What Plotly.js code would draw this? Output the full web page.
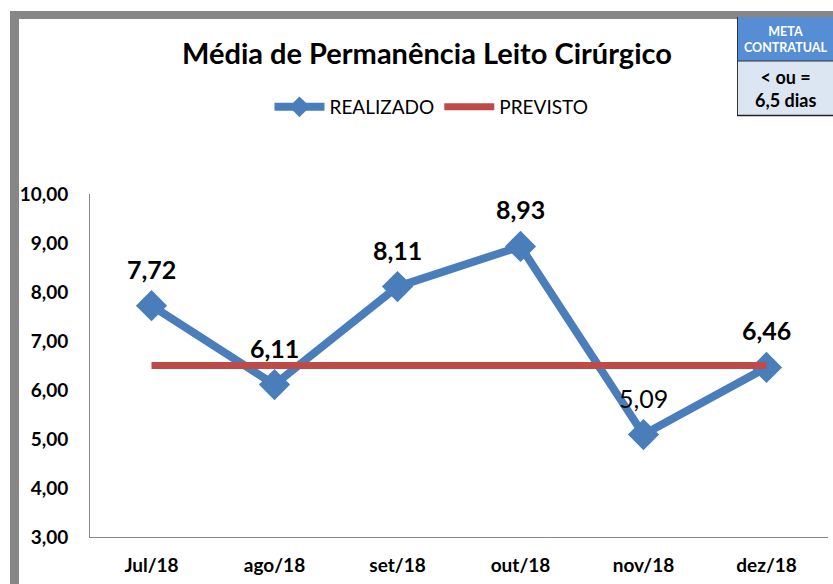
<!DOCTYPE html>
<html><head><meta charset="utf-8">
<script src="https://cdn.plot.ly/plotly-3.0.1.min.js"></script>
<style>html,body{margin:0;padding:0;background:#fff;}#chart{width:833px;height:584px;}</style>
</head><body><div id="chart"></div>
<script>
const categories = ['Jul/18','ago/18','set/18','out/18','nov/18','dez/18'];
const realizado = [7.72, 6.11, 8.11, 8.93, 5.09, 6.46];
const previsto = [6.5, 6.5, 6.5, 6.5, 6.5, 6.5];
const yTicks = [3,4,5,6,7,8,9,10];
const yTickText = yTicks.map(v => v.toFixed(2).replace('.', ','));
const labelText = realizado.map(v => v.toFixed(2).replace('.', ','));
const titleText = 'Média de Permanência Leito Cirúrgico';
const metaHeader = 'META<br>CONTRATUAL';
const metaValue = '&lt; ou =<br>6,5 dias';

const FONT = 'Lato, "Open Sans", sans-serif';

const traces = [
  {x: categories, y: realizado, name: 'REALIZADO', type: 'scatter', mode: 'lines+markers',
   line: {color: '#4A7EBB', width: 8}, marker: {symbol: 'diamond', size: 24, color: '#4A7EBB'}},
  {x: categories, y: previsto, name: 'PREVISTO', type: 'scatter', mode: 'lines',
   line: {color: '#BE4B48', width: 7}}
];

// pixel helpers mapping page pixels to the paper domain of the plot area
function px(xp){ return (xp - 90) / (828 - 90); }
function py(yp){ return (537 - yp) / (537 - 194); }

const annotations = categories.map((c, i) => ({
  x: c, y: realizado[i], xref: 'x', yref: 'y', text: labelText[i], showarrow: false,
  xanchor: 'center', yanchor: 'middle',
  yshift: 37, font: {family: FONT, size: 25, color: '#000', weight: i === 4 ? 400 : 700}
})).concat([
  {xref: 'paper', yref: 'paper', x: px(427), y: py(52), xanchor: 'center', yanchor: 'middle',
   text: titleText, showarrow: false, font: {family: FONT, size: 29, color: '#000', weight: 700}},
  {xref: 'paper', yref: 'paper', x: px(785), y: py(39), xanchor: 'center', yanchor: 'middle',
   text: metaHeader, showarrow: false, font: {family: FONT, size: 12.5, color: '#fff', weight: 700}},
  {xref: 'paper', yref: 'paper', x: px(785), y: py(88), xanchor: 'center', yanchor: 'middle',
   text: metaValue, showarrow: false, font: {family: FONT, size: 18, color: '#000', weight: 700}}
]);

const layout = {
  width: 833, height: 584,
  margin: {l: 90, r: 5, t: 194, b: 47},
  paper_bgcolor: '#fff', plot_bgcolor: '#fff',
  showlegend: true,
  legend: {orientation: 'h', x: 0.518, xanchor: 'center', xref: 'container',
    y: 1 - 107/584, yanchor: 'middle', yref: 'container',
    font: {family: FONT, size: 19, color: '#000'}, itemwidth: 50, traceorder: 'normal',
    bgcolor: 'rgba(0,0,0,0)'},
  xaxis: {type: 'category', range: [-0.5, 5.5], showgrid: false, zeroline: false,
    showline: true, linecolor: '#888', linewidth: 1, ticks: '',
    tickfont: {family: FONT, size: 19, color: '#000', weight: 700}, ticklabelstandoff: 11},
  yaxis: {range: [3, 10], tickvals: yTicks, ticktext: yTickText, showgrid: false, zeroline: false,
    showline: true, linecolor: '#888', linewidth: 1, ticks: '',
    tickfont: {family: FONT, size: 19, color: '#000', weight: 700}, ticklabelstandoff: 17},
  shapes: [
    {type: 'rect', xref: 'paper', yref: 'paper', x0: px(10), x1: px(19), y0: py(590), y1: py(11), fillcolor: '#878787', line: {width: 0}, layer: 'below'},
    {type: 'rect', xref: 'paper', yref: 'paper', x0: px(10), x1: px(840), y0: py(19), y1: py(11), fillcolor: '#878787', line: {width: 0}, layer: 'below'},
    {type: 'rect', xref: 'paper', yref: 'paper', x0: px(737), x1: px(840), y0: py(61), y1: py(17), fillcolor: '#558ED5', line: {width: 0}},
    {type: 'rect', xref: 'paper', yref: 'paper', x0: px(737), x1: px(840), y0: py(115), y1: py(61), fillcolor: '#DCE6F2', line: {width: 0}},
    {type: 'line', xref: 'paper', yref: 'paper', x0: px(737.5), x1: px(737.5), y0: py(116), y1: py(17), line: {color: '#333', width: 1}},
    {type: 'line', xref: 'paper', yref: 'paper', x0: px(737), x1: px(840), y0: py(61), y1: py(61), line: {color: '#333', width: 1}},
    {type: 'line', xref: 'paper', yref: 'paper', x0: px(737), x1: px(840), y0: py(115.5), y1: py(115.5), line: {color: '#222', width: 1.5}}
  ],
  annotations: annotations
};

Plotly.newPlot('chart', traces, layout, {displayModeBar: false, staticPlot: true});
</script></body></html>
